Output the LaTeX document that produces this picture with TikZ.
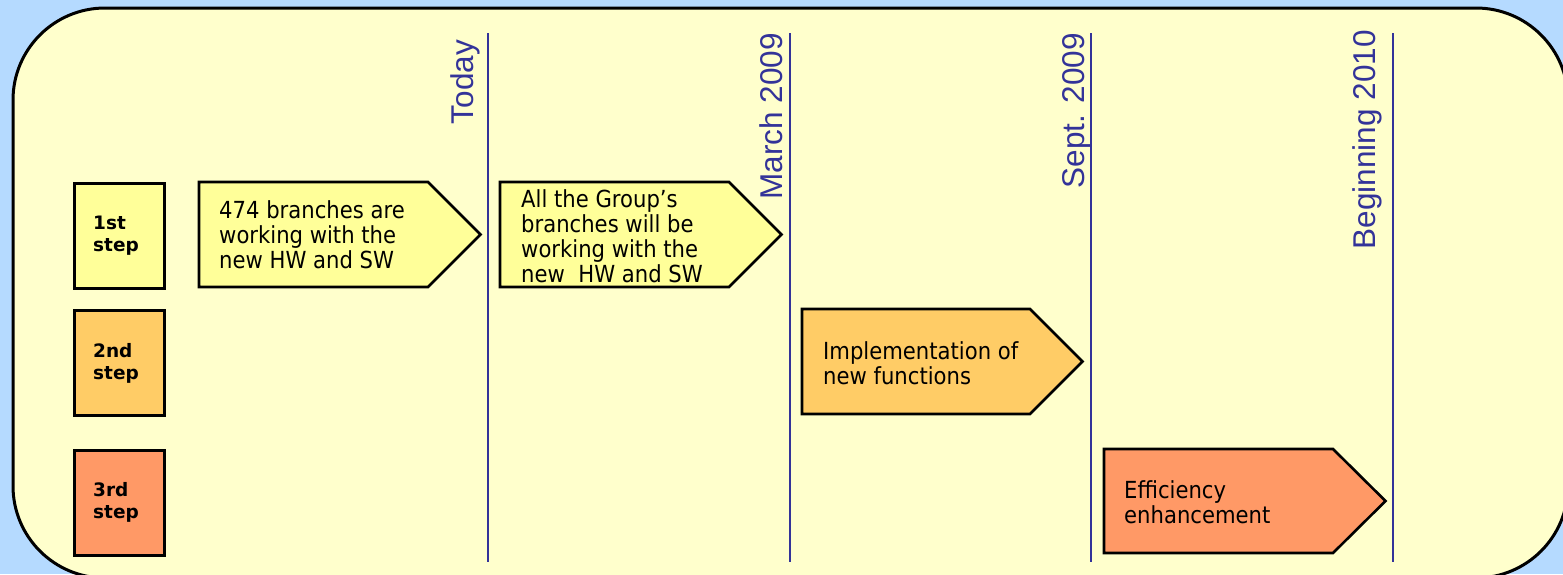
\documentclass[tikz,border=0pt]{standalone}
\usepackage{fontspec}
\setmainfont{Liberation Sans}
\newfontfamily\boxfont[FakeStretch=0.9]{DejaVu Sans}
\newfontfamily\stepfont{DejaVu Sans}
\definecolor{bgblue}{RGB}{181,218,255}
\definecolor{panel}{RGB}{255,255,204}
\definecolor{lineblue}{RGB}{51,51,153}
\definecolor{stepA}{RGB}{255,255,153}
\definecolor{stepB}{RGB}{255,204,102}
\definecolor{stepC}{RGB}{255,153,102}
\tikzset{
  stepbox/.style={draw=black, line width=2.6pt, minimum width=90pt, minimum height=105pt, inner sep=0pt, anchor=north west},
  steptext/.style={anchor=west, align=left, inner sep=0pt, font=\stepfont\bfseries\fontsize{18.5}{22}\selectfont},
  arrowshape/.style={draw=black, line width=2.6pt, line join=miter},
  arrowtext/.style={anchor=west, align=left, inner sep=0pt, font=\boxfont\fontsize{23.5}{25}\selectfont},
  milestone/.style={draw=lineblue, line width=2.2pt},
  datelabel/.style={rotate=90, anchor=base east, inner sep=0pt, text=lineblue, font=\fontsize{31.5}{31.5}\selectfont}
}
\begin{document}
\begin{tikzpicture}[x=1pt, y=-1pt]
\useasboundingbox (0,0) rectangle (1563,574);
\clip (0,0) rectangle (1563,574);
\fill[bgblue] (0,0) rectangle (1563,574);
\draw[fill=panel, line width=3pt, rounded corners=92pt] (13,8) rectangle (1568,578);

% milestone lines
\foreach \n/\x in {a/488, b/790, c/1091, d/1393} {
  \coordinate (\n top) at (\x,33);
  \coordinate (\n bot) at (\x,562);
  \draw[milestone] (\n top) -- (\n bot);
}
\node[datelabel] (ltoday) at (473,40) {Today};
\node[datelabel] (lmarch) at (782,33) {March 2009};
\node[datelabel] (lsept) at (1084,33) {Sept. 2009};
\node[datelabel] (lbegin) at (1375,30) {Beginning 2010};

% step boxes
\node[stepbox, fill=stepA] (s1) at (73,182) {};
\node[stepbox, fill=stepB] (s2) at (73,309) {};
\node[stepbox, fill=stepC] (s3) at (73,449) {};
\node[steptext] (t1) at (93,236) {1st\\step};
\node[steptext] (t2) at (93,363.5) {2nd\\step};
\node[steptext] (t3) at (93,502) {3rd\\step};

% arrows
\draw[arrowshape, fill=stepA] (199,182) -- (428,182) -- (480.5,234.5) -- (428,287) -- (199,287) -- cycle;
\draw[arrowshape, fill=stepA] (500,182) -- (729,182) -- (781.5,234.5) -- (729,287) -- (500,287) -- cycle;
\draw[arrowshape, fill=stepB] (802,309) -- (1030,309) -- (1082.5,361.5) -- (1030,414) -- (802,414) -- cycle;
\draw[arrowshape, fill=stepC] (1104,449) -- (1333,449) -- (1385.5,501) -- (1333,553) -- (1104,553) -- cycle;

\node[arrowtext] (a1) at (219,235) {474 branches are\\working with the\\new HW and SW};
\node[arrowtext] (a2) at (521,236.5) {All the Group’s\\branches will be\\working with the\\new\ \ HW and SW};
\node[arrowtext] (a3) at (823,363.5) {Implementation of\\new functions};
\node[arrowtext] (a4) at (1124,502) {Efficiency\\enhancement};
\end{tikzpicture}
\end{document}
